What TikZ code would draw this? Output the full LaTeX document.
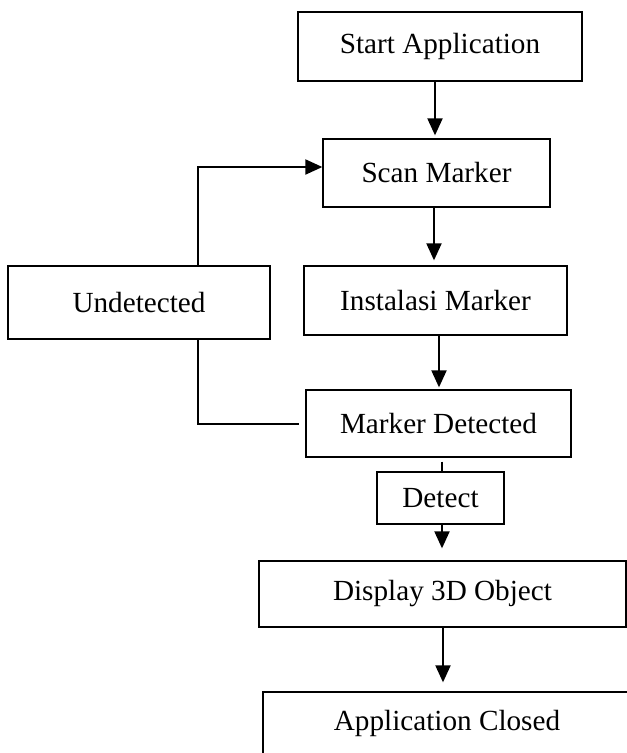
\documentclass[tikz,border=0pt]{standalone}
\usepackage{fontspec}
\setmainfont{Liberation Serif}
\usetikzlibrary{arrows.meta}
\tikzset{
  box/.style={draw, line width=1.3pt, inner sep=0pt, font=\fontsize{29.2}{33}\selectfont},
  conn/.style={line width=2pt},
  arr/.style={conn, -{Triangle[length=17pt,width=15pt]}},
}
\begin{document}
\begin{tikzpicture}[x=1pt,y=-1pt]
\useasboundingbox (0,0) rectangle (627,753);
\node[box, minimum width=284pt, minimum height=69pt] (start) at (440,46.5) {Start Application};
\node[box, minimum width=227pt, minimum height=68pt] (scan) at (436.5,173) {Scan Marker};
\node[box, minimum width=263pt, minimum height=69pt] (instal) at (435.5,300.5) {Instalasi Marker};
\node[box, minimum width=262pt, minimum height=73pt] (undet) at (139,302.5) {Undetected};
\node[box, minimum width=265pt, minimum height=67pt] (marker) at (438.5,423.5) {Marker Detected};
\node[box, minimum width=127pt, minimum height=52pt] (detect) at (440.5,498) {Detect};
\node[box, minimum width=367pt, minimum height=66pt] (disp) at (442.5,594) {Display 3D Object};
\begin{scope}
\clip (0,0) rectangle (627,753);
\node[box, minimum width=368pt, minimum height=62pt] (closed) at (447,723) {Application Closed};
\end{scope}
\coordinate (lx) at (198,0);
% main flow
\draw[arr, shorten >=3pt] ([xshift=-1.5pt]scan.north |- start.south) -- ([xshift=-1.5pt]scan.north);
\draw[arr, shorten >=5pt] ([xshift=-2.5pt]scan.south) -- ([xshift=-2.5pt]scan.south |- instal.north);
\draw[arr, shorten >=2pt] ([xshift=3.5pt]instal.south) -- ([xshift=3.5pt]instal.south |- marker.north);
\draw[conn, shorten <=4pt] ([xshift=3.5pt]marker.south) -- ([xshift=3.5pt]marker.south |- detect.north);
\draw[arr, shorten >=12pt] ([xshift=1.5pt]detect.south) -- ([xshift=1.5pt]detect.south |- disp.north);
\draw[arr, shorten >=9pt] ([xshift=0.5pt]disp.south) -- ([xshift=0.5pt]disp.south |- closed.north);
% loop
\draw[conn, shorten >=6pt] (undet.south -| lx) |- (marker.west);
\draw[arr] (undet.north -| lx) |- ([yshift=6pt]scan.west);
\end{tikzpicture}
\end{document}
